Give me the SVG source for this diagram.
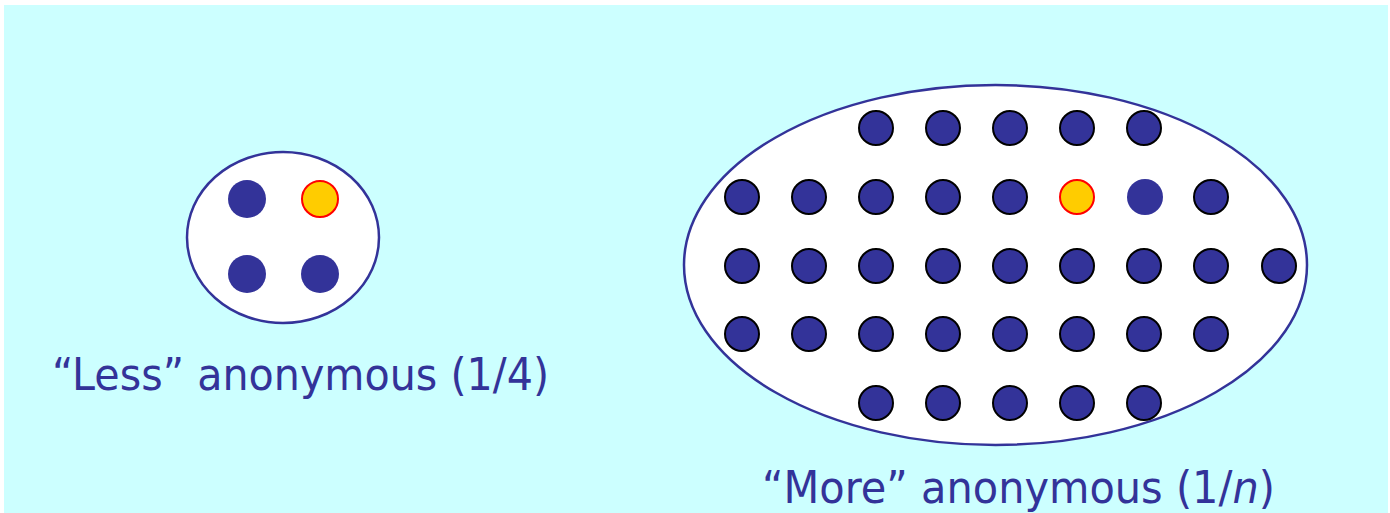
<svg xmlns="http://www.w3.org/2000/svg" width="1390" height="513" viewBox="0 0 1390 513">
<style>
.lbl{font-family:"DejaVu Sans","Liberation Sans",sans-serif;font-size:45px;fill:#333399}
.set{fill:#ffffff;stroke:#333399;stroke-width:2.5}
.p{fill:#333399;stroke:#000000;stroke-width:2}
.pn{fill:#333399;stroke:none}
.me{fill:#ffcc00;stroke:#ff0000;stroke-width:2}
</style>
<rect x="0" y="0" width="1390" height="513" fill="#ffffff"/>
<rect x="4" y="5" width="1384" height="508" fill="#ccffff"/>
<g id="small-set">
<ellipse class="set" cx="283" cy="237.5" rx="96" ry="85.5"/>
<circle class="pn" cx="247" cy="199" r="19"/>
<circle class="me" cx="320" cy="199" r="18"/>
<circle class="pn" cx="247" cy="274" r="19"/>
<circle class="pn" cx="320" cy="274" r="19"/>
</g>
<g id="small-label"><text class="lbl" x="52" y="390" textLength="497" lengthAdjust="spacingAndGlyphs">“Less” anonymous (1/4)</text></g>
<g id="large-set">
<ellipse class="set" cx="995.5" cy="265" rx="311.5" ry="180"/>
<g id="row1">
<circle class="p" cx="876" cy="128" r="17"/><circle class="p" cx="943" cy="128" r="17"/><circle class="p" cx="1010" cy="128" r="17"/><circle class="p" cx="1077" cy="128" r="17"/><circle class="p" cx="1144" cy="128" r="17"/>
</g>
<g id="row2">
<circle class="p" cx="742" cy="197" r="17"/><circle class="p" cx="809" cy="197" r="17"/><circle class="p" cx="876" cy="197" r="17"/><circle class="p" cx="943" cy="197" r="17"/><circle class="p" cx="1010" cy="197" r="17"/><circle class="me" cx="1077" cy="197" r="17"/><circle class="pn" cx="1145" cy="197" r="18"/><circle class="p" cx="1211" cy="197" r="17"/>
</g>
<g id="row3">
<circle class="p" cx="742" cy="266" r="17"/><circle class="p" cx="809" cy="266" r="17"/><circle class="p" cx="876" cy="266" r="17"/><circle class="p" cx="943" cy="266" r="17"/><circle class="p" cx="1010" cy="266" r="17"/><circle class="p" cx="1077" cy="266" r="17"/><circle class="p" cx="1144" cy="266" r="17"/><circle class="p" cx="1211" cy="266" r="17"/><circle class="p" cx="1279" cy="266" r="17"/>
</g>
<g id="row4">
<circle class="p" cx="742" cy="334" r="17"/><circle class="p" cx="809" cy="334" r="17"/><circle class="p" cx="876" cy="334" r="17"/><circle class="p" cx="943" cy="334" r="17"/><circle class="p" cx="1010" cy="334" r="17"/><circle class="p" cx="1077" cy="334" r="17"/><circle class="p" cx="1144" cy="334" r="17"/><circle class="p" cx="1211" cy="334" r="17"/>
</g>
<g id="row5">
<circle class="p" cx="876" cy="403" r="17"/><circle class="p" cx="943" cy="403" r="17"/><circle class="p" cx="1010" cy="403" r="17"/><circle class="p" cx="1077" cy="403" r="17"/><circle class="p" cx="1144" cy="403" r="17"/>
</g>
</g>
<g id="large-label"><text class="lbl" x="762" y="503" textLength="513" lengthAdjust="spacingAndGlyphs">“More” anonymous (1/<tspan font-style="italic">n</tspan>)</text></g>
</svg>
